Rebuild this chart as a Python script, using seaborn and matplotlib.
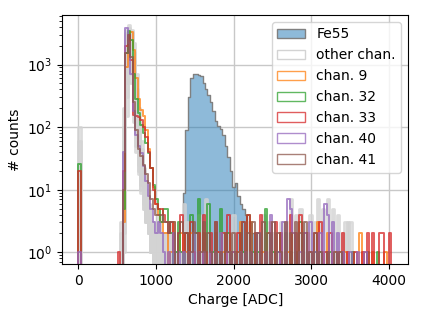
import numpy as np
import matplotlib
matplotlib.use("Agg")
import matplotlib.pyplot as plt
import seaborn as sns
from matplotlib.patches import Patch
from matplotlib.colors import to_rgba

# ---------------- data ----------------
BIN_W = 32
PEAK_START = 512          # first bin of the peak arrays (16 bins of 32 ADC)
FE55_START = 1344

# Fe55 source spectrum (counts per bin, starting at FE55_START)
fe55_counts = [9, 90, 300, 600, 700, 700, 690, 650, 500, 400, 320, 250, 180, 125,
               105, 92, 75, 50, 33, 20, 11, 13, 8, 6, 5, 4, 3, 2]
fe55_tail = [(2270, 2), (2330, 1), (2450, 1)]

# highlighted channels: counts in bin 0, peak counts, sparse tail (charge, count)
chan_labels = ["chan. 9", "chan. 32", "chan. 33", "chan. 40", "chan. 41"]
chan_colors = ["C1", "C2", "C3", "C4", "C5"]
chan_zero = [0, 26, 20, 1, 0]

chan9_peak = [0, 0, 3, 900, 2600, 3300, 1700, 600, 280, 190, 150, 90, 45, 22, 11, 6]
chan32_peak = [0, 0, 5, 1500, 3400, 2500, 700, 280, 170, 110, 80, 55, 38, 22, 12, 7]
chan33_peak = [1, 0, 20, 2000, 3000, 1200, 155, 150, 145, 130, 100, 70, 40, 22, 10, 6]
chan40_peak = [0, 0, 40, 3800, 2200, 700, 180, 75, 50, 38, 24, 14, 8, 5, 3, 2]
chan41_peak = [0, 0, 10, 1500, 3000, 1300, 250, 90, 45, 35, 25, 18, 13, 7, 5, 4]

chan9_tail = [(1040, 4), (1070, 3), (1100, 2), (1150, 2), (1200, 1), (1240, 3), (1290, 1),
              (1340, 2), (1400, 1), (1450, 2), (1500, 1), (1560, 1), (1610, 2), (1660, 1),
              (1710, 1), (1760, 2), (1820, 1), (1860, 1), (1910, 2), (1970, 1), (2020, 1),
              (2070, 1), (2110, 3), (2160, 1), (2230, 3), (2290, 2), (2340, 1), (2390, 1),
              (2450, 2), (2490, 3), (2560, 1), (2620, 2), (2700, 1), (2760, 2), (2830, 1),
              (2900, 1), (2960, 2), (3010, 1), (3080, 3), (3150, 1), (3210, 2), (3300, 1),
              (3380, 1), (3440, 1), (3620, 2), (3700, 1), (3800, 1), (3960, 1)]
chan32_tail = [(1040, 5), (1070, 3), (1100, 5), (1140, 5), (1170, 3), (1210, 2), (1250, 1),
               (1290, 3), (1330, 1), (1380, 2), (1420, 1), (1470, 4), (1530, 2), (1560, 7),
               (1600, 2), (1640, 1), (1680, 6), (1730, 1), (1760, 2), (1830, 1), (1850, 4),
               (1890, 1), (1950, 2), (2010, 1), (2080, 2), (2140, 1), (2190, 4), (2250, 1),
               (2330, 1), (2400, 5), (2500, 1), (2580, 1), (2660, 2), (2750, 1), (2800, 1),
               (2870, 3), (2950, 1), (3050, 1), (3120, 1), (3250, 1), (3400, 1), (3550, 1),
               (3720, 1), (3850, 1)]
chan33_tail = [(1040, 5), (1060, 5), (1090, 4), (1130, 3), (1160, 2), (1200, 3), (1240, 1),
               (1280, 2), (1320, 4), (1360, 1), (1400, 2), (1450, 3), (1500, 1), (1550, 2),
               (1600, 4), (1650, 1), (1700, 2), (1760, 3), (1800, 1), (1860, 2), (1930, 4),
               (1990, 1), (2050, 2), (2120, 3), (2180, 4), (2230, 1), (2280, 2), (2350, 4),
               (2410, 1), (2480, 2), (2540, 3), (2600, 2), (2660, 1), (2720, 4), (2790, 2),
               (2850, 4), (2920, 2), (2980, 1), (3050, 2), (3120, 3), (3190, 1), (3260, 2),
               (3330, 1), (3400, 2), (3480, 1), (3580, 1), (3650, 1), (3730, 2), (3790, 2),
               (3880, 2), (3910, 2), (4010, 2)]
chan40_tail = [(1030, 3), (1070, 2), (1100, 1), (1160, 1), (1220, 2), (1290, 1), (1350, 1),
               (1420, 1), (1480, 2), (1550, 1), (1630, 1), (1700, 1), (1790, 1), (1850, 2),
               (1920, 1), (2000, 1), (2080, 1), (2150, 1), (2230, 1), (2310, 2), (2400, 1),
               (2480, 4), (2560, 1), (2640, 3), (2690, 7), (2720, 5), (2780, 2), (2850, 1),
               (2920, 2), (3000, 3), (3060, 1), (3120, 2), (3180, 6), (3230, 4), (3290, 3),
               (3350, 2), (3420, 1), (3500, 1), (3600, 1), (3700, 1)]
chan41_tail = [(1030, 4), (1060, 4), (1090, 3), (1120, 3), (1160, 2), (1200, 3), (1240, 3),
               (1280, 2), (1320, 3), (1360, 2), (1400, 2), (1440, 1), (1490, 3), (1530, 2),
               (1580, 1), (1630, 3), (1680, 2), (1720, 1), (1780, 3), (1830, 1), (1890, 2),
               (1950, 1), (2010, 2), (2070, 1), (2130, 3), (2190, 2), (2260, 3), (2320, 2),
               (2380, 3), (2440, 2), (2500, 3), (2560, 2), (2620, 1), (2680, 3), (2740, 2),
               (2800, 3), (2860, 2), (2930, 3), (2990, 1), (3050, 2), (3110, 1), (3200, 1),
               (3300, 1), (3380, 1)]

chan_peaks = [chan9_peak, chan32_peak, chan33_peak, chan40_peak, chan41_peak]
chan_tails = [chan9_tail, chan32_tail, chan33_tail, chan40_tail, chan41_tail]

# other channels (grey)
other_zero = [100, 60, 0, 0, 0, 0, 0, 0, 0, 0, 0, 0]
other_peaks = [
    [0, 0, 30, 2500, 4300, 1500, 300, 80, 30, 14, 8, 4, 2, 1, 1, 0],
    [0, 2, 200, 3500, 2000, 500, 120, 40, 18, 9, 5, 3, 2, 1, 0, 0],
    [0, 0, 5, 600, 2800, 3000, 900, 250, 80, 30, 14, 7, 4, 2, 1, 1],
    [0, 0, 10, 1500, 3200, 1800, 450, 120, 45, 20, 10, 5, 3, 2, 1, 0],
    [0, 0, 2, 300, 2000, 3600, 1600, 400, 120, 40, 16, 8, 4, 2, 1, 1],
    [0, 1, 60, 3000, 3000, 800, 180, 50, 20, 10, 5, 3, 2, 1, 0, 0],
    [0, 0, 15, 1800, 3900, 1200, 250, 70, 25, 12, 6, 3, 2, 1, 0, 0],
    [0, 0, 1, 150, 1500, 3200, 2200, 700, 200, 60, 20, 8, 4, 2, 1, 0],
    [0, 0, 20, 2000, 3500, 1500, 500, 150, 60, 30, 15, 8, 5, 3, 2, 1],
    [0, 0, 8, 1000, 3000, 2500, 800, 250, 90, 40, 20, 10, 6, 3, 2, 1],
    [0, 3, 100, 3200, 2500, 700, 200, 70, 30, 15, 9, 5, 3, 2, 1, 1],
    [0, 0, 3, 500, 2500, 3300, 1200, 350, 110, 45, 22, 12, 6, 3, 2, 1],
]
other_tails = [
    [(1030, 2), (1070, 1), (1150, 1), (1370, 6), (1800, 1), (2250, 1), (2600, 1), (3000, 1)],
    [(1040, 3), (1090, 1), (1200, 1), (1650, 7), (2100, 1), (2500, 2), (2900, 1)],
    [(1030, 1), (1110, 2), (1300, 1), (1500, 2), (2000, 4), (2400, 1), (2740, 7), (3300, 1)],
    [(1050, 2), (1150, 1), (1450, 1), (1750, 1), (2200, 3), (2620, 3), (3100, 7), (3450, 3)],
    [(1060, 1), (1240, 1), (1560, 4), (2050, 1), (2380, 4), (2850, 5), (3220, 7), (3480, 3)],
    [(1030, 2), (1330, 1), (1700, 1), (2150, 3), (2560, 1), (3000, 4), (3350, 4)],
    [(1080, 1), (1400, 3), (1850, 2), (2300, 1), (2700, 3), (3150, 5), (3500, 3)],
    [(1040, 1), (1120, 1), (1600, 1), (2000, 1), (2450, 3), (2950, 2), (3270, 5)],
    [(1050, 3), (1180, 2), (1270, 1), (1900, 2), (2520, 2), (3060, 3)],
    [(1030, 4), (1130, 2), (1420, 2), (2280, 2), (2790, 4), (3400, 2)],
    [(1070, 2), (1210, 1), (1540, 3), (2170, 2), (2660, 2), (3120, 3)],
    [(1040, 2), (1160, 3), (1360, 1), (1980, 2), (2880, 3), (3320, 2)],
]

# ---------------- helpers ----------------
edges = np.arange(-BIN_W, 4065, BIN_W).tolist()


def build(counts, start, tail, zero=0):
    centers = start + BIN_W / 2 + BIN_W * np.arange(len(counts))
    x = [BIN_W / 2] + list(centers) + [c for c, _ in tail]
    w = [zero] + list(counts) + [n for _, n in tail]
    return np.asarray(x, float), np.asarray(w, float)


# ---------------- plot ----------------
fig, ax = plt.subplots(figsize=(4.23, 3.17), dpi=100)
fig.subplots_adjust(left=0.147, right=0.965, top=0.953, bottom=0.167)
ax.set_yscale("log")

x, w = build(fe55_counts, FE55_START, fe55_tail)
sns.histplot(x=x, weights=w, bins=edges, element="step", fill=True, color="C0",
             alpha=0.5, edgecolor="grey", linewidth=1.0, ax=ax)

for pk, tl, z in zip(other_peaks, other_tails, other_zero):
    x, w = build(pk, PEAK_START, tl, z)
    sns.histplot(x=x, weights=w, bins=edges, element="step", fill=False,
                 color="lightgray", alpha=0.8, linewidth=2.0, ax=ax)

for pk, tl, z, col in zip(chan_peaks, chan_tails, chan_zero, chan_colors):
    x, w = build(pk, PEAK_START, tl, z)
    sns.histplot(x=x, weights=w, bins=edges, element="step", fill=False,
                 color=col, alpha=0.75, linewidth=1.4, ax=ax)

ax.set_xlim(-206, 4247)
ax.set_ylim(0.65, 6200)
ax.grid(True, color="#c8c8c8", linewidth=1.0)
ax.set_axisbelow(True)
ax.set_xlabel("Charge [ADC]", fontsize=10)
ax.set_ylabel("# counts", fontsize=10)
ax.tick_params(labelsize=10)

handles = [Patch(facecolor=to_rgba("C0", 0.5), edgecolor="grey", label="Fe55"),
           Patch(facecolor="white", edgecolor="lightgray", label="other chan.")]
for lab, col in zip(chan_labels, chan_colors):
    handles.append(Patch(facecolor="white", edgecolor=to_rgba(col, 0.75), label=lab))
ax.legend(handles=handles, loc="upper right", fontsize=10)

fig.savefig("out.png", dpi=100)
